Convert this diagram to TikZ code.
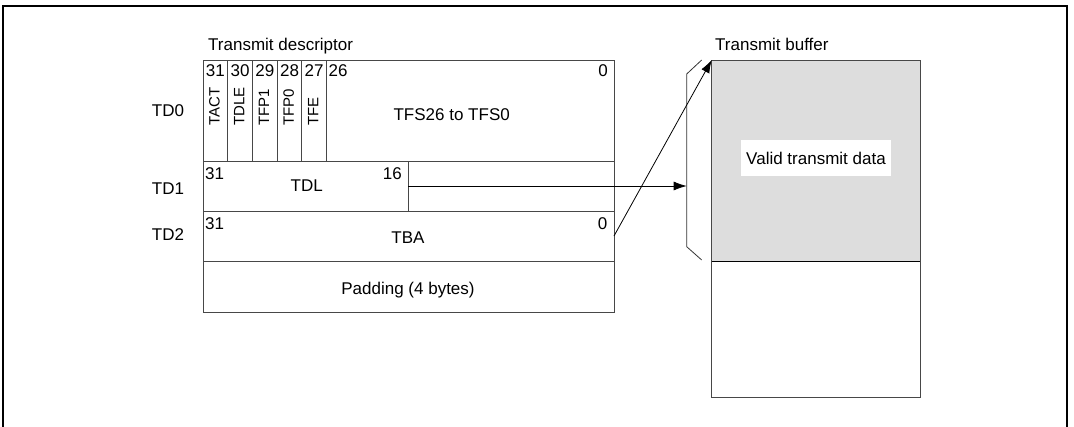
\documentclass[tikz,border=0pt]{standalone}
\usepackage{fontspec}
\setmainfont{Liberation Sans}
\usetikzlibrary{arrows.meta}
\definecolor{bufgray}{HTML}{DDDDDD}
\begin{document}
\begin{tikzpicture}[x=1pt,y=-1pt,
  lc/.style={draw=black!72,line width=1pt},
  cell/.style={lc,anchor=north west,inner sep=0pt,outer sep=0pt},
  lbl/.style={inner sep=0pt,font=\fontsize{17}{20}\selectfont},
  vlbl/.style={inner sep=0pt,font=\fontsize{15}{18}\selectfont,rotate=90,anchor=west},
  arr/.style={draw=black,line width=0.8pt,-{Latex[length=13pt,width=9pt]}}
]
\useasboundingbox (0,0) rectangle (1074,426);
\draw[line width=2pt] (3,432) -- (3,6) -- (1067,6) -- (1067,432);

% descriptor
\node[lbl,anchor=base west] (tdesc) at (208,50) {Transmit descriptor};
\node[cell,minimum width=24.7pt,minimum height=101pt] (c31) at (203,60) {};
\node[cell,minimum width=24.7pt,minimum height=101pt] (c30) at (227.7,60) {};
\node[cell,minimum width=24.7pt,minimum height=101pt] (c29) at (252.4,60) {};
\node[cell,minimum width=24.7pt,minimum height=101pt] (c28) at (277.1,60) {};
\node[cell,minimum width=24.7pt,minimum height=101pt] (c27) at (301.8,60) {};
\node[cell,minimum width=287.5pt,minimum height=101pt] (c26) at (326.5,60) {};
\node[cell,minimum width=205pt,minimum height=50pt] (td1l) at (203,161) {};
\node[cell,minimum width=206pt,minimum height=50pt] (td1r) at (408,161) {};
\node[cell,minimum width=411pt,minimum height=50pt] (td2) at (203,211) {};
\node[cell,minimum width=411pt,minimum height=51pt] (pad) at (203,261) {};

\node[lbl,anchor=base] (n31) at (215.4,76) {31};
\node[lbl,anchor=base] (n30) at (240.1,76) {30};
\node[lbl,anchor=base] (n29) at (264.8,76) {29};
\node[lbl,anchor=base] (n28) at (289.5,76) {28};
\node[lbl,anchor=base] (n27) at (314.2,76) {27};
\node[lbl,anchor=base west] (n26) at (328.5,76) {26};
\node[lbl,anchor=base east] (n0a) at (608,76) {0};
\node[vlbl] (tact) at (214.5,126) {TACT};
\node[vlbl] (tdle) at (239.2,126) {TDLE};
\node[vlbl] (tfp1) at (263.9,126) {TFP1};
\node[vlbl] (tfp0) at (288.6,126) {TFP0};
\node[vlbl] (tfe) at (313.3,126) {TFE};
\node[lbl,anchor=base] (tfs) at (451.7,120.7) {TFS26 to TFS0};

\node[lbl,anchor=base west] (m31) at (205,179.5) {31};
\node[lbl,anchor=base east] (m16) at (402,179.5) {16};
\node[lbl,anchor=base] (tdl) at (306.7,191.7) {TDL};

\node[lbl,anchor=base west] (k31) at (205,229.5) {31};
\node[lbl,anchor=base east] (k0) at (607.5,229.5) {0};
\node[lbl,anchor=base] (tba) at (408,243) {TBA};

\node[lbl,anchor=base] (padt) at (408,294) {Padding (4 bytes)};

\node[lbl,anchor=base west] (td0l) at (151.7,116.7) {TD0};
\node[lbl,anchor=base west] (td1lab) at (151.7,194) {TD1};
\node[lbl,anchor=base west] (td2lab) at (151.7,240.7) {TD2};

% buffer
\node[lbl,anchor=base west] (tbuf) at (715,50) {Transmit buffer};
\node[cell,fill=bufgray,minimum width=208.3pt,minimum height=201pt] (buf) at (711.7,60) {};
\node[cell,minimum width=208.3pt,minimum height=136pt] (buf2) at (711.7,261) {};
\draw[black,line width=1pt] (buf.south west) -- (buf.south east);
\node[lbl,fill=white,minimum width=150.3pt,minimum height=35.7pt] (valid) at (816,158) {Valid transmit data};

% bracket
\coordinate (bt) at (701.7,60);
\coordinate (b1) at (686.7,74);
\coordinate (bm) at (686.7,186);
\coordinate (b2) at (686.7,246.7);
\coordinate (bb) at (701.7,260);
\draw[black!80,line width=0.8pt] (bt) -- (b1) -- (b2) -- (bb);

% arrows
\draw[arr] (td1r.west) -- (bm);
\draw[arr] (td2.east) -- (buf.north west);
\end{tikzpicture}
\end{document}
